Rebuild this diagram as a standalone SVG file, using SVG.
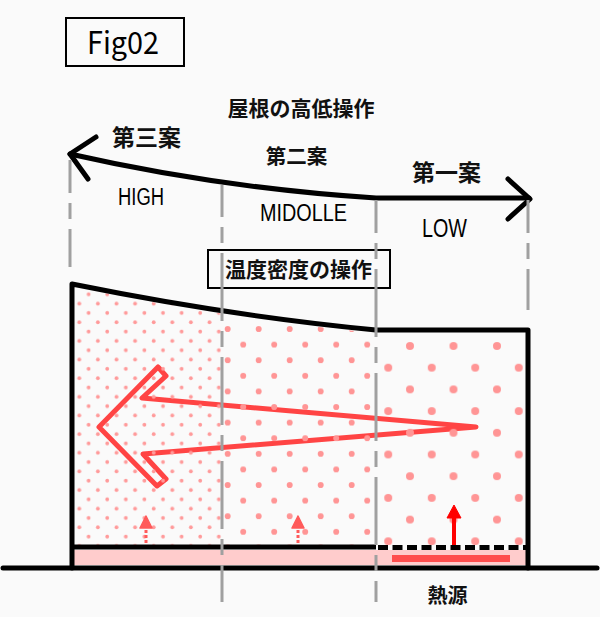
<svg xmlns="http://www.w3.org/2000/svg" width="600" height="617" viewBox="0 0 600 617">
<defs>
<style>
.jp{font-family:"Noto Sans CJK JP","Noto Sans",sans-serif;font-weight:bold;fill:#111;text-anchor:middle}
.en{font-family:"Noto Sans CJK JP","Noto Sans",sans-serif;fill:#000}
.lat{font-family:"Liberation Sans","Noto Sans",sans-serif;fill:#000}
.blk{fill:none;stroke:#000;stroke-width:5;stroke-linecap:round;stroke-linejoin:round}
.box{fill:none;stroke:#000;stroke-width:2}
.guide{fill:none;stroke:#a0a0a0;stroke-width:3;stroke-dasharray:68 10 16 10}
</style>
<pattern id="p1" patternUnits="userSpaceOnUse" x="74.65" y="289.64" width="18.6" height="18.64">
<circle cx="4.65" cy="13.98" r="1.9" fill="#ff9a9a"/>
<circle cx="13.95" cy="4.66" r="1.9" fill="#ff9a9a"/>
</pattern>
<pattern id="p2" patternUnits="userSpaceOnUse" x="220" y="321.2" width="31" height="31.2">
<circle cx="7.7" cy="7.8" r="3" fill="#ff9595"/>
<circle cx="23.2" cy="23.4" r="3" fill="#ff9595"/>
</pattern>
<pattern id="p3" patternUnits="userSpaceOnUse" x="377.375" y="335.15" width="43.5" height="43.4">
<circle cx="32.625" cy="10.85" r="4" fill="#ff9595"/>
<circle cx="10.875" cy="32.55" r="4" fill="#ff9595"/>
</pattern>
<clipPath id="inside">
<path d="M74,287 Q230,319 376,333 L526,333 L526,545 L74,545 Z"/>
</clipPath>
</defs>
<rect x="0" y="0" width="600" height="617" fill="#fafafa"/>

<g id="fig-label">
<rect class="box" x="66" y="18" width="118" height="48"/>
<text class="en" x="87" y="54" font-size="31" textLength="72" lengthAdjust="spacingAndGlyphs">Fig02</text>
</g>

<g id="title">
<text class="jp" x="301" y="116" font-size="21">屋根の高低操作</text>
</g>

<g id="plan3">
<text class="jp" x="146.5" y="145.5" font-size="23">第三案</text>
<text class="lat" x="118" y="205" font-size="23" textLength="46" lengthAdjust="spacingAndGlyphs">HIGH</text>
</g>
<g id="plan2">
<text class="jp" x="296.5" y="164" font-size="20.5">第二案</text>
<text class="lat" x="260" y="221" font-size="24.5" textLength="87" lengthAdjust="spacingAndGlyphs">MIDOLLE</text>
</g>
<g id="plan1">
<text class="jp" x="446.5" y="181" font-size="23">第一案</text>
<text class="lat" x="422" y="237" font-size="26" textLength="45" lengthAdjust="spacingAndGlyphs">LOW</text>
</g>

<g id="density-box">
<rect class="box" x="208" y="250" width="182" height="38"/>
<text class="jp" x="298.5" y="277" font-size="21">温度密度の操作</text>
</g>

<g id="big-arrow">
<polygon points="99,427 158,367 166,376 142,398 476,427 143,454 166,479 157,486" fill="none" stroke="#ff4444" stroke-width="5" stroke-linejoin="round"/>
</g>

<g id="dots" clip-path="url(#inside)">
<rect x="74" y="280" width="148" height="266" fill="url(#p1)"/>
<rect x="222" y="300" width="154" height="246" fill="url(#p2)"/>
<rect x="376" y="320" width="150" height="226" fill="url(#p3)"/>
</g>

<g id="building">
<rect x="74" y="550" width="452" height="15" fill="#ffcccc"/>
<path class="blk" d="M72,568 L72,284 Q230,316 376,330 L528,330 L528,568"/>
<line x1="72" y1="547" x2="376" y2="547" stroke="#000" stroke-width="5"/>
<line x1="378" y1="547.5" x2="526" y2="547.5" stroke="#000" stroke-width="5" stroke-dasharray="10 4.5"/>
<line x1="3" y1="568" x2="597" y2="568" stroke="#000" stroke-width="5" stroke-linecap="round"/>
</g>

<g id="heat-source">
<rect x="392" y="555" width="118" height="7" fill="#ff4d4d"/>
<text class="jp" x="447.5" y="603" font-size="20">熱源</text>
</g>

<g id="rise-arrows">
<line x1="146" y1="543" x2="146" y2="527" stroke="#ff5a5a" stroke-width="3" stroke-dasharray="3 2"/>
<polygon points="146,516 140,528 152,528" fill="#ff5a5a" stroke="#ff5a5a" stroke-width="1.5" stroke-linejoin="round"/>
<line x1="298" y1="543" x2="298" y2="527" stroke="#ff5a5a" stroke-width="3" stroke-dasharray="3 2"/>
<polygon points="298,516 292,528 304,528" fill="#ff5a5a" stroke="#ff5a5a" stroke-width="1.5" stroke-linejoin="round"/>
<line x1="454" y1="545" x2="454" y2="516" stroke="#ff0000" stroke-width="4"/>
<polygon points="454,505 447,518 461,518" fill="#ff0000" stroke="#ff0000" stroke-width="1" stroke-linejoin="round"/>
</g>

<g id="connectors">
<path class="blk" d="M70,154 Q220,188 376,198 L529,198"/>
<path class="blk" d="M96,137 L70,154 L88,179"/>
<path class="blk" d="M508,179 L530,199 L508,219"/>
<line class="guide" x1="70" y1="160" x2="70" y2="267" stroke-dashoffset="35"/>
<line class="guide" x1="222" y1="185" x2="222" y2="602" stroke-dashoffset="36"/>
<line class="guide" x1="376" y1="200" x2="376" y2="602" stroke-dashoffset="35"/>
<line class="guide" x1="528" y1="200" x2="528" y2="310" stroke-dashoffset="35"/>
</g>
</svg>
